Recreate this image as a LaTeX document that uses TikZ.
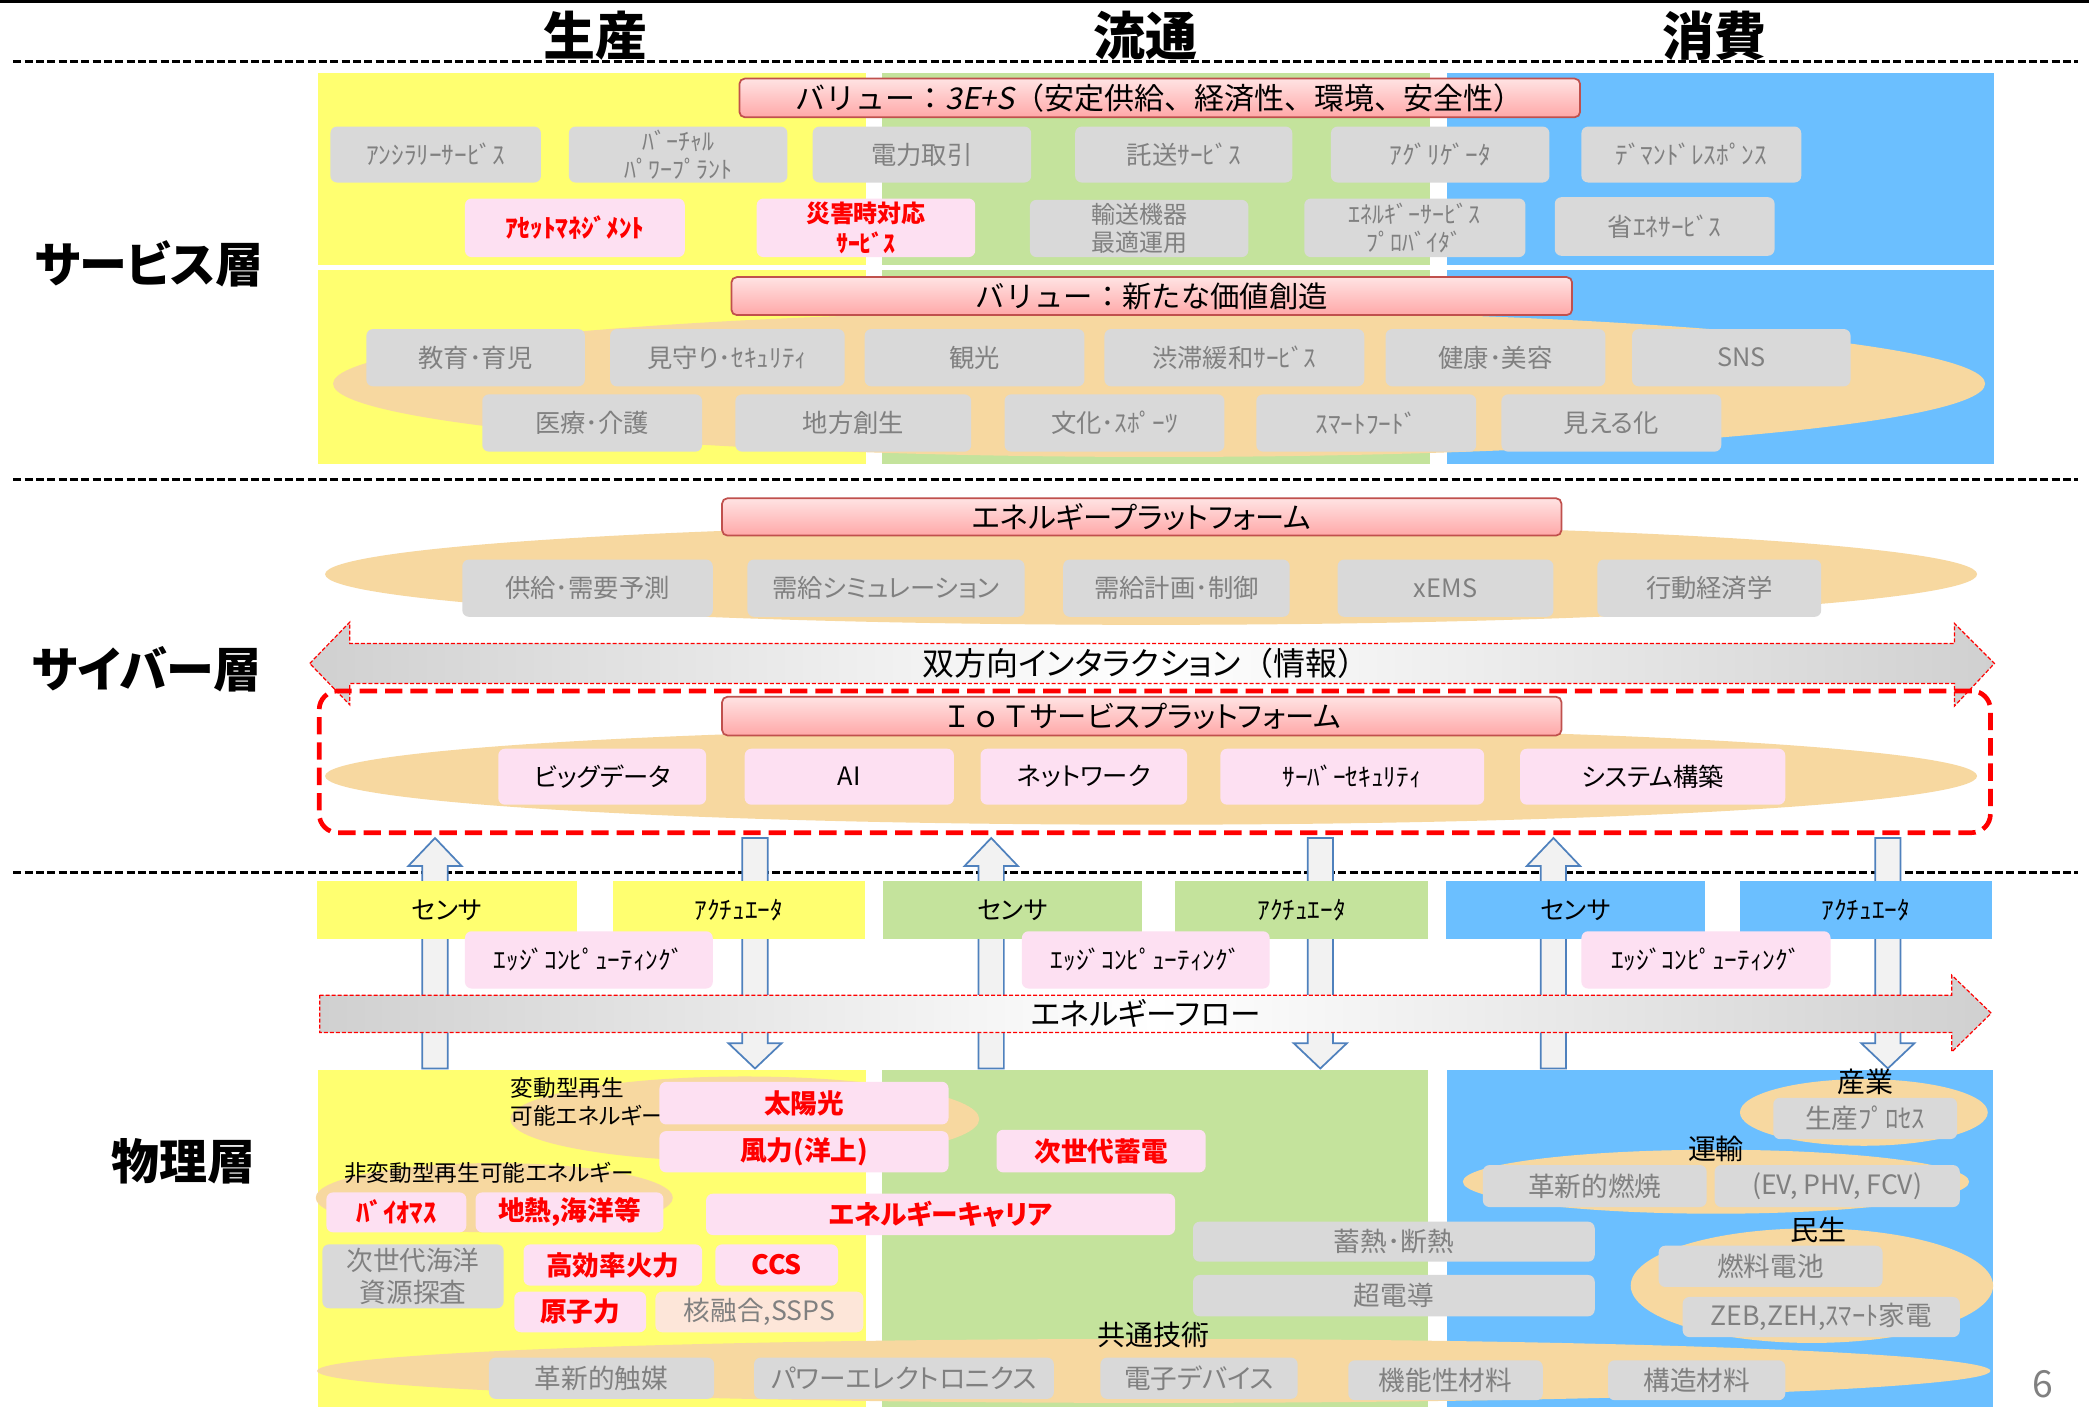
\documentclass[tikz,border=0pt]{standalone}
\usepackage{fontspec}
\setmainfont{Noto Sans CJK JP}[RawFeature=+palt]
\newfontfamily\fullw{Noto Sans CJK JP}
\newfontfamily\slfont{Noto Sans CJK JP}[FakeSlant=0.2]
\usetikzlibrary{shapes.geometric}
\definecolor{cyel}{HTML}{FFFF70}
\definecolor{cgrn}{HTML}{C4E39C}
\definecolor{cblu}{HTML}{6BBFFF}
\definecolor{corg}{HTML}{F7D8A0}
\definecolor{cgbox}{HTML}{D9D9D9}
\definecolor{cgtxt}{HTML}{808080}
\definecolor{cpink}{HTML}{FDE0F2}
\definecolor{cpeach}{HTML}{FDE6D9}
\definecolor{cvtop}{HTML}{FFE3E3}
\definecolor{cvbot}{HTML}{FFA8A8}
\definecolor{cvbd}{HTML}{C0504D}
\definecolor{carr}{HTML}{F2F2F2}
\definecolor{carrbd}{HTML}{4F81BD}
\definecolor{cflow}{HTML}{D0D0D0}
\newcommand\fz[2]{\fontsize{#1}{#2}\selectfont}
\newcommand\mkbox[7]{\node[#2, minimum width={#5-#3}, minimum height={#6-#4}] (#1) at ({(#3+#5)/2},{(#4+#6)/2}) {#7};}
\newcommand\arrup[2]{\draw[blk] ({#1-9.5},#2) -- ({#1-9.5},650) -- ({#1-20},650) -- (#1,629) -- ({#1+20},650) -- ({#1+9.5},650) -- ({#1+9.5},#2) -- cycle;}
\newcommand\arrdn[1]{\draw[blk] ({#1-9.5},629) -- ({#1-9.5},783) -- ({#1-20},783) -- (#1,802) -- ({#1+20},783) -- ({#1+9.5},783) -- ({#1+9.5},629) -- cycle;}
\tikzset{
 bgrect/.style={inner sep=0, outer sep=0},
 gbox/.style={fill=cgbox, rounded corners=5pt, text=cgtxt, font=\fz{19}{22}, align=center, inner sep=0, outer sep=0},
 pbox/.style={fill=cpink, rounded corners=5pt, text=black, font=\fz{19}{22}, align=center, inner sep=0, outer sep=0},
 rbox/.style={pbox, text=red, font=\bfseries\fz{19}{22}},
 rbig/.style={pbox, text=red, font=\bfseries\fz{20}{23}},
 gbig/.style={gbox, font=\fz{20}{24}},
 colbox/.style={inner sep=0, outer sep=0, font=\fz{19}{22}},
 vbox/.style={draw=cvbd, line width=1.3pt, rounded corners=4pt, top color=cvtop, bottom color=cvbot, font=\fz{22}{25}, inner sep=0},
 ell/.style={ellipse, fill=corg, inner sep=0, outer sep=0},
 hdr/.style={font=\bfseries\fz{39}{42}},
 lyr/.style={font=\bfseries\fz{36}{40}},
 sublbl/.style={font=\fz{21}{24}},
 smlbl/.style={font=\fz{17}{21}, align=left},
 sepl/.style={line width=2.2pt, dash pattern=on 6pt off 2.5pt},
 blk/.style={fill=carr, draw=carrbd, line width=1.3pt, line join=miter},
 flowarr/.style={draw=red, line width=0.9pt, dash pattern=on 3pt off 1.5pt, left color=cflow, right color=cflow, middle color=white},
}
\begin{document}
\begin{tikzpicture}[x=1pt, y=-1pt]
\useasboundingbox (0,0) rectangle (1568,1056);
\fill[white] (0,0) rectangle (1568,1056);
% top rule and separators
\draw[line width=2.5pt] (0,1.2) -- (1568,1.2);
\draw[sepl] (10,46) -- (1560,46);
\draw[sepl] (10,360) -- (1560,360);
\draw[sepl] (10,655) -- (1560,655);
% headers
\node[hdr] (hprod) at (447,27) {生産};
\node[hdr] (hdist) at (860,27) {流通};
\node[hdr] (hcons) at (1287,27) {消費};
\node[lyr] (lsvc) at (112,198) {サービス層};
\node[lyr] (lcyb) at (110,502) {サイバー層};
\node[lyr] (lphy) at (138,872) {物理層};
% backgrounds
\mkbox{bgya}{bgrect, fill=cyel}{239}{55}{650}{199}{}
\mkbox{bgga}{bgrect, fill=cgrn}{662}{55}{1073}{199}{}
\mkbox{bgba}{bgrect, fill=cblu}{1086}{55}{1497}{199}{}
\mkbox{bgyb}{bgrect, fill=cyel}{239}{203}{650}{348}{}
\mkbox{bggb}{bgrect, fill=cgrn}{662}{203}{1073}{348}{}
\mkbox{bgbb}{bgrect, fill=cblu}{1086}{203}{1497}{348}{}
\mkbox{bgyc}{bgrect, fill=cyel}{239}{803}{650}{1056}{}
\mkbox{bggc}{bgrect, fill=cgrn}{662}{803}{1072}{1056}{}
\mkbox{bgbc}{bgrect, fill=cblu}{1086}{803}{1496}{1056}{}
% ===== service layer =====
\mkbox{valA}{vbox, font=\fullw\fz{22.5}{25}}{555}{59}{1186}{88}{バリュー：{\slfont 3E+S}（安定供給、経済性、環境、安全性）}
\mkbox{a1}{gbox}{248}{95}{406}{137}{ｱﾝｼﾗﾘｰｻｰﾋﾞｽ}
\mkbox{a2}{gbox, font=\fz{18}{21}}{427}{95}{591}{137}{ﾊﾞｰﾁｬﾙ\\ﾊﾟﾜｰﾌﾟﾗﾝﾄ}
\mkbox{a3}{gbox}{610}{95}{774}{137}{電力取引}
\mkbox{a4}{gbox}{807}{95}{970}{137}{託送ｻｰﾋﾞｽ}
\mkbox{a5}{gbox}{999}{95}{1163}{137}{ｱｸﾞﾘｹﾞｰﾀ}
\mkbox{a6}{gbox}{1187}{95}{1352}{137}{ﾃﾞﾏﾝﾄﾞﾚｽﾎﾟﾝｽ}
\mkbox{b1}{rbox}{349}{149}{514}{193}{ｱｾｯﾄﾏﾈｼﾞﾒﾝﾄ}
\mkbox{b2}{rbox, font=\bfseries\fz{18}{23}}{568}{149}{732}{193}{災害時対応\\ｻｰﾋﾞｽ}
\mkbox{b3}{gbox, font=\fz{18}{21}}{773}{150}{937}{193}{輸送機器\\最適運用}
\mkbox{b4}{gbox, font=\fz{18}{21}}{979}{149}{1145}{193}{ｴﾈﾙｷﾞｰｻｰﾋﾞｽ\\ﾌﾟﾛﾊﾞｲﾀﾞ}
\mkbox{b5}{gbox}{1167}{148}{1332}{192}{省ｴﾈｻｰﾋﾞｽ}
\node[ell, minimum width=1240, minimum height=110] (esvc) at (870,288) {};
\mkbox{valB}{vbox, font=\fullw\fz{22}{25}}{549}{208}{1180}{236.5}{バリュー：新たな価値創造}
\mkbox{c1}{gbox}{275}{247}{439}{290}{教育･育児}
\mkbox{c2}{gbox}{458}{247}{634}{290}{見守り･ｾｷｭﾘﾃｨ}
\mkbox{c3}{gbox}{649}{247}{814}{290}{観光}
\mkbox{c4}{gbox}{829}{247}{1024}{290}{渋滞緩和ｻｰﾋﾞｽ}
\mkbox{c5}{gbox}{1040}{247}{1205}{290}{健康･美容}
\mkbox{c6}{gbox}{1225}{247}{1389}{290}{SNS}
\mkbox{d1}{gbox}{362}{296}{527}{339}{医療･介護}
\mkbox{d2}{gbox}{552}{296}{729}{339}{地方創生}
\mkbox{d3}{gbox}{754}{296}{919}{339}{文化･ｽﾎﾟｰﾂ}
\mkbox{d4}{gbox}{943}{296}{1108}{339}{ｽﾏｰﾄﾌｰﾄﾞ}
\mkbox{d5}{gbox}{1127}{296}{1292}{339}{見える化}
% ===== cyber layer =====
\node[ell, minimum width=1240, minimum height=76] (ecyA) at (864,431) {};
\mkbox{eplat}{vbox}{542}{374}{1172}{402}{エネルギープラットフォーム}
\mkbox{e1}{gbox}{347}{420}{535}{463}{供給･需要予測}
\mkbox{e2}{gbox}{561}{420}{769}{463}{需給シミュレーション}
\mkbox{e3}{gbox}{798}{420}{968}{463}{需給計画･制御}
\mkbox{e4}{gbox}{1004}{420}{1166}{463}{xEMS}
\mkbox{e5}{gbox}{1199}{420}{1367}{463}{行動経済学}
\path[flowarr] (232.5,498) -- (262.5,467) -- (262.5,483) -- (1467,483) -- (1467,468) -- (1497,498) -- (1467,530) -- (1467,513) -- (262.5,513) -- (262.5,529) -- cycle;
\node[font=\fz{24}{26}] (bidir) at (860,498) {双方向インタラクション{\fullw（}情報{\fullw）}};
\node[ell, minimum width=1240, minimum height=73] (ecyB) at (864,582.5) {};
\mkbox{iplat}{vbox}{542}{523}{1172}{552}{{\fullw ＩｏＴ}サービスプラットフォーム}
\mkbox{f1}{pbox}{374}{562}{530}{604}{ビッグデータ}
\mkbox{f2}{pbox}{559}{562}{716}{604}{AI}
\mkbox{f3}{pbox}{736}{562}{891}{604}{ネットワーク}
\mkbox{f4}{pbox}{916}{562}{1114}{604}{ｻｰﾊﾞｰｾｷｭﾘﾃｨ}
\mkbox{f5}{pbox}{1141}{562}{1340}{604}{システム構築}
\mkbox{iotframe}{draw=red, line width=3.5pt, dash pattern=on 13pt off 6pt, rounded corners=14pt, inner sep=0}{239.6}{518.6}{1494}{625}{}
% ===== physical layer =====
\arrup{326.5}{802}
\arrup{744}{802}
\arrup{1166}{802}
\arrdn{566.7}
\arrdn{991}
\arrdn{1417}
\mkbox{g1}{colbox, fill=cyel}{238}{661}{433}{705}{センサ}
\mkbox{g2}{colbox, fill=cyel}{460}{661}{649}{705}{ｱｸﾁｭｴｰﾀ}
\mkbox{g3}{colbox, fill=cgrn}{663}{661}{857}{705}{センサ}
\mkbox{g4}{colbox, fill=cgrn}{882}{661}{1072}{705}{ｱｸﾁｭｴｰﾀ}
\mkbox{g5}{colbox, fill=cblu}{1085}{661}{1280}{705}{センサ}
\mkbox{g6}{colbox, fill=cblu}{1306}{661}{1495}{705}{ｱｸﾁｭｴｰﾀ}
\mkbox{h1}{pbox}{349}{699}{535}{742}{ｴｯｼﾞｺﾝﾋﾟｭｰﾃｨﾝｸﾞ}
\mkbox{h2}{pbox}{767}{699}{953}{742}{ｴｯｼﾞｺﾝﾋﾟｭｰﾃｨﾝｸﾞ}
\mkbox{h3}{pbox}{1187}{699}{1374}{742}{ｴｯｼﾞｺﾝﾋﾟｭｰﾃｨﾝｸﾞ}
\path[flowarr] (240,747) -- (1465,747) -- (1465,732) -- (1494.6,760.5) -- (1465,789.5) -- (1465,775) -- (240,775) -- cycle;
\node[font=\fz{23}{25}] (eflow) at (860,761) {エネルギーフロー};
% production column
\node[ell, minimum width=352, minimum height=64] (pe1) at (559,840) {};
\node[smlbl, anchor=west] (pt1) at (380,827) {変動型再生\\可能エネルギー};
\mkbox{q1}{rbig}{495}{812}{712}{844}{太陽光}
\mkbox{q2}{rbig}{495}{849}{712}{880}{風力(洋上)}
\mkbox{q3}{rbig}{748}{848}{905}{880}{次世代蓄電}
\node[ell, minimum width=268, minimum height=52] (pe2) at (371,899) {};
\node[smlbl] (pt2) at (367,880) {非変動型再生可能エネルギー};
\mkbox{q4}{rbig}{245}{895}{350}{925}{ﾊﾞｲｵﾏｽ}
\mkbox{q5}{rbig}{357}{895}{498}{925}{地熱,海洋等}
\mkbox{q6}{rbig}{530}{896}{882}{927}{エネルギーキャリア}
\mkbox{q7}{gbig, font=\fz{20}{24}}{242}{934}{378}{982}{次世代海洋\\資源探査}
\mkbox{q8}{rbig}{393}{934}{527}{965}{高効率火力}
\mkbox{q9}{rbig}{537}{934}{629}{965}{CCS}
\mkbox{q10}{rbig}{386}{969.5}{485}{1000}{原子力}
\mkbox{q11}{gbig, fill=cpeach}{492}{969.5}{648}{1000}{核融合,SSPS}
\mkbox{q12}{gbig}{895.5}{917}{1197}{947}{蓄熱･断熱}
\mkbox{q13}{gbig}{895.5}{957}{1197}{988}{超電導}
% common technologies
\node[ell, minimum width=1256, minimum height=48] (pe3) at (866,1029) {};
\node[sublbl] (pt3) at (866,1002) {共通技術};
\mkbox{r1}{gbig}{367}{1019}{536}{1050}{革新的触媒}
\mkbox{r2}{gbig}{566}{1019}{791}{1050}{パワーエレクトロニクス}
\mkbox{r3}{gbig}{826}{1019}{974}{1050}{電子デバイス}
\mkbox{r4}{gbig}{1012}{1021}{1158}{1051}{機能性材料}
\mkbox{r5}{gbig}{1207}{1021}{1340}{1051}{構造材料}
% consumption column
\node[ell, minimum width=186, minimum height=50] (se1) at (1399,835) {};
\node[sublbl] (st1) at (1400,812) {産業};
\mkbox{s1}{gbig}{1331}{824}{1469}{855}{生産ﾌﾟﾛｾｽ}
\node[ell, minimum width=380, minimum height=48] (se2) at (1288,887) {};
\node[sublbl] (st2) at (1288,862) {運輸};
\mkbox{s2}{gbig}{1113}{874.5}{1281}{906}{革新的燃焼}
\mkbox{s3}{gbig}{1287}{874.5}{1471}{906}{(EV, PHV, FCV)}
\node[ell, minimum width=272, minimum height=86] (se3) at (1360,965) {};
\node[sublbl] (st3) at (1365,923) {民生};
\mkbox{s4}{gbig}{1245}{935}{1413}{966}{燃料電池}
\mkbox{s5}{gbig}{1263}{973.5}{1471}{1003.6}{ZEB,ZEH,ｽﾏｰﾄ家電}
\node[text=cgtxt, font=\fz{28}{30}] (pgno) at (1533,1039) {6};
\end{tikzpicture}
\end{document}
